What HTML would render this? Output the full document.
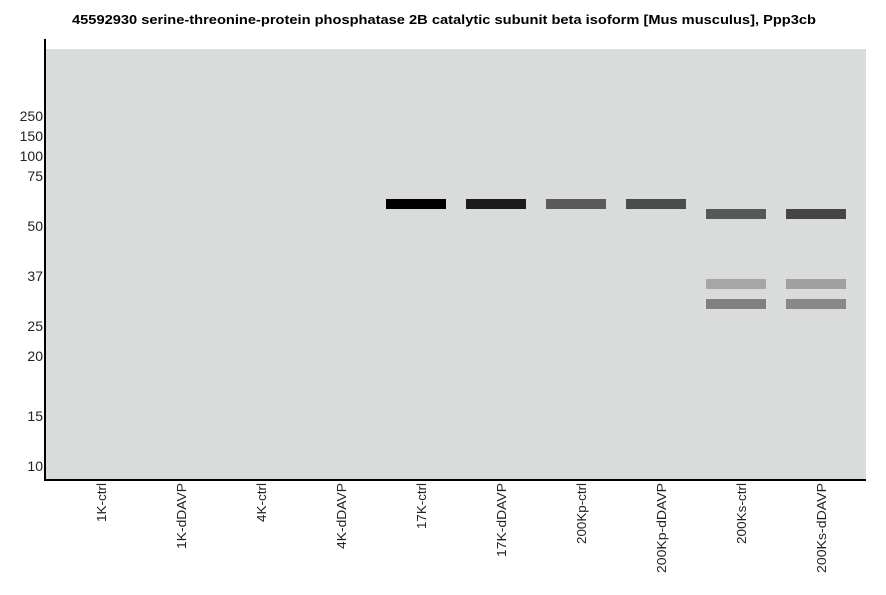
<!DOCTYPE html>
<html>
<head>
<meta charset="utf-8">
<style>
html,body{margin:0;padding:0;background:#fff;}
body{width:886px;height:595px;overflow:hidden;}
svg{display:block;}
text{font-family:"Liberation Sans",Arial,sans-serif;}
</style>
</head>
<body>
<svg width="886" height="595" viewBox="0 0 886 595" xmlns="http://www.w3.org/2000/svg">
  <rect x="0" y="0" width="886" height="595" fill="#ffffff"/>
  <text x="72" y="24" font-size="13" font-weight="bold" fill="#000" textLength="744" lengthAdjust="spacingAndGlyphs">45592930 serine-threonine-protein phosphatase 2B catalytic subunit beta isoform [Mus musculus], Ppp3cb</text>
  <!-- plot area -->
  <rect x="46" y="49" width="820" height="430" fill="#dadcdb"/>
  <!-- axes -->
  <rect x="44" y="39" width="2" height="442" fill="#000"/>
  <rect x="44" y="479" width="822" height="2" fill="#000"/>
  <!-- y tick labels -->
  <g font-size="14" fill="#222" text-anchor="end">
    <text x="43" y="121">250</text>
    <text x="43" y="141">150</text>
    <text x="43" y="161">100</text>
    <text x="43" y="181">75</text>
    <text x="43" y="231">50</text>
    <text x="43" y="281">37</text>
    <text x="43" y="331">25</text>
    <text x="43" y="361">20</text>
    <text x="43" y="421">15</text>
    <text x="43" y="471">10</text>
  </g>
  <!-- bands -->
  <rect x="386" y="199" width="60" height="10" fill="#000000"/>
  <rect x="466" y="199" width="60" height="10" fill="#1b1b1b"/>
  <rect x="546" y="199" width="60" height="10" fill="#5a5a5a"/>
  <rect x="626" y="199" width="60" height="10" fill="#4b4d4d"/>
  <rect x="706" y="209" width="60" height="10" fill="#565858"/>
  <rect x="786" y="209" width="60" height="10" fill="#454545"/>
  <rect x="706" y="279" width="60" height="10" fill="#a6a6a6"/>
  <rect x="786" y="279" width="60" height="10" fill="#a0a0a0"/>
  <rect x="706" y="299" width="60" height="10" fill="#808080"/>
  <rect x="786" y="299" width="60" height="10" fill="#888888"/>
  <!-- x labels -->
  <g font-size="13" fill="#222">
    <text transform="translate(106,522) rotate(-90)" textLength="39" lengthAdjust="spacingAndGlyphs">1K-ctrl</text>
    <text transform="translate(186,549) rotate(-90)" textLength="66" lengthAdjust="spacingAndGlyphs">1K-dDAVP</text>
    <text transform="translate(266,522) rotate(-90)" textLength="39" lengthAdjust="spacingAndGlyphs">4K-ctrl</text>
    <text transform="translate(346,549) rotate(-90)" textLength="66" lengthAdjust="spacingAndGlyphs">4K-dDAVP</text>
    <text transform="translate(426,529) rotate(-90)" textLength="46" lengthAdjust="spacingAndGlyphs">17K-ctrl</text>
    <text transform="translate(506,557) rotate(-90)" textLength="74" lengthAdjust="spacingAndGlyphs">17K-dDAVP</text>
    <text transform="translate(586,544) rotate(-90)" textLength="61" lengthAdjust="spacingAndGlyphs">200Kp-ctrl</text>
    <text transform="translate(666,573) rotate(-90)" textLength="90" lengthAdjust="spacingAndGlyphs">200Kp-dDAVP</text>
    <text transform="translate(746,544) rotate(-90)" textLength="61" lengthAdjust="spacingAndGlyphs">200Ks-ctrl</text>
    <text transform="translate(826,573) rotate(-90)" textLength="90" lengthAdjust="spacingAndGlyphs">200Ks-dDAVP</text>
  </g>
</svg>
</body>
</html>
